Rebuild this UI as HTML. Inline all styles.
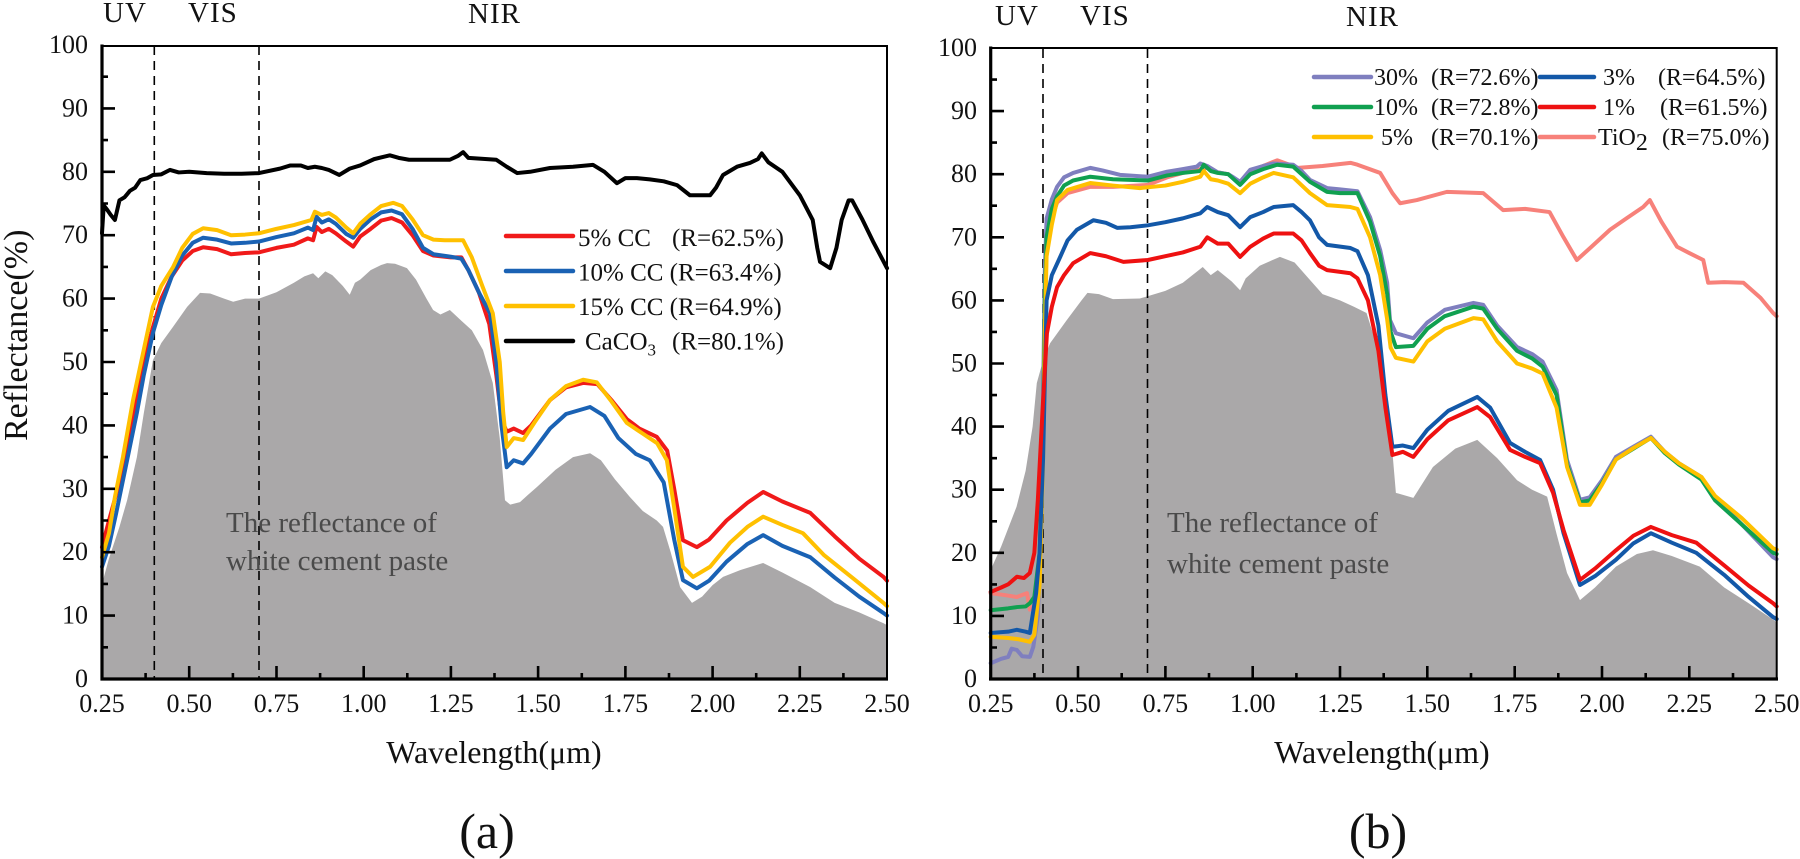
<!DOCTYPE html>
<html><head><meta charset="utf-8"><style>
html,body{margin:0;padding:0;background:#fff;}
svg{display:block;}
text{font-family:"Liberation Serif","Times New Roman",serif;fill:#111;}
.ln{fill:none;stroke-width:4;stroke-linejoin:round;stroke-linecap:round;}
</style></head><body>
<svg width="1800" height="859" viewBox="0 0 1800 859" xmlns="http://www.w3.org/2000/svg" font-family="Liberation Serif, Times New Roman, serif">
<rect width="1800" height="859" fill="#fff"/>

<!-- ================= LEFT PANEL ================= -->
<g transform="matrix(348.9,0,0,-6.34,14.775,679)">
<polygon fill="#aaa8a9" points="0.25,0 0.25,15 0.27,19 0.30,24 0.322,28.2 0.35,35 0.37,42 0.396,50.3 0.42,53 0.453,55.5 0.494,58.7 0.531,60.9 0.56,60.8 0.60,60 0.626,59.5 0.66,60 0.70,60 0.75,61 0.80,62.5 0.83,63.5 0.855,64 0.87,63.2 0.89,64.3 0.91,63.7 0.94,62 0.96,60.6 0.975,62.5 0.99,63 1.02,64.5 1.05,65.3 1.067,65.6 1.09,65.5 1.124,64.8 1.15,63 1.18,60 1.199,58.2 1.22,57.5 1.247,58.2 1.28,56.5 1.31,55 1.342,51.9 1.37,46.7 1.39,38 1.405,28.2 1.42,27.5 1.448,27.9 1.47,29 1.497,30.3 1.55,33 1.60,35 1.649,35.6 1.68,34.5 1.72,31.5 1.763,28.7 1.80,26.5 1.84,25 1.858,24 1.88,20 1.907,14.5 1.941,12 1.97,13 2.00,14.8 2.03,16.1 2.08,17.2 2.145,18.3 2.20,16.8 2.28,14.5 2.35,12 2.42,10.5 2.49,8.8 2.5,8.5 2.5,0"/>
</g>
<!-- dashed lines -->
<line x1="154.3" y1="46" x2="154.3" y2="679" stroke="#000" stroke-width="1.6" stroke-dasharray="9 6"/>
<line x1="259" y1="46" x2="259" y2="679" stroke="#000" stroke-width="1.6" stroke-dasharray="9 6"/>
<!-- cement text -->
<text x="226" y="532" font-size="29" style="fill:#4a4a4a">The reflectance of</text>
<text x="226" y="570" font-size="29" style="fill:#4a4a4a">white cement paste</text>

<g transform="matrix(348.9,0,0,-6.34,14.775,679)">
<polyline class="ln" vector-effect="non-scaling-stroke" stroke="#000" points="0.25,70.3 0.255,74.7 0.265,74 0.275,73.2 0.287,72.4 0.30,75.5 0.315,76 0.33,77 0.345,77.5 0.36,78.7 0.38,79 0.396,79.5 0.42,79.6 0.445,80.3 0.47,79.9 0.50,80 0.55,79.8 0.60,79.7 0.65,79.7 0.70,79.8 0.76,80.5 0.79,81 0.82,81 0.84,80.6 0.86,80.8 0.88,80.6 0.90,80.3 0.93,79.5 0.96,80.5 0.99,81 1.03,82 1.075,82.6 1.10,82.2 1.13,81.9 1.19,81.9 1.247,81.9 1.27,82.5 1.285,83.1 1.30,82.2 1.38,81.9 1.41,80.8 1.44,79.8 1.477,80 1.534,80.6 1.60,80.8 1.657,81.1 1.69,80 1.726,78.2 1.75,79 1.783,79 1.82,78.8 1.86,78.5 1.898,77.9 1.935,76.3 1.993,76.3 2.01,77.5 2.03,79.5 2.07,80.8 2.107,81.4 2.13,82 2.141,82.9 2.16,81.5 2.2,80 2.25,76.3 2.287,72.4 2.30,68 2.308,65.8 2.337,64.8 2.355,68 2.37,72.4 2.39,75.5 2.40,75.5 2.43,72.4 2.46,69 2.5,64.8"/>
<polyline class="ln" vector-effect="non-scaling-stroke" stroke="#f01a1a" points="0.25,20.8 0.27,25 0.29,29 0.32,36 0.34,42 0.37,50 0.396,55.5 0.42,60 0.45,63.5 0.48,66 0.51,67.5 0.54,68.1 0.58,67.8 0.62,67 0.66,67.2 0.70,67.3 0.75,68 0.80,68.5 0.84,69.5 0.855,69.2 0.865,71.3 0.88,70.5 0.90,71 0.92,70.3 0.95,69 0.97,68.2 0.99,69.8 1.02,71 1.05,72.3 1.08,72.7 1.11,72 1.14,70 1.17,67.5 1.20,66.8 1.25,66.5 1.28,66.5 1.30,64.5 1.33,61 1.36,56 1.38,48 1.395,41 1.41,39 1.43,39.5 1.457,38.8 1.48,40 1.534,44 1.58,46 1.629,46.7 1.67,46.5 1.71,44 1.754,41 1.79,39.5 1.84,38.2 1.87,36 1.89,30 1.915,21.9 1.955,20.8 1.99,22 2.04,25 2.10,27.8 2.145,29.5 2.20,28 2.28,26.2 2.35,22.5 2.42,19 2.49,16.1 2.5,15.5"/>
<polyline class="ln" vector-effect="non-scaling-stroke" stroke="#1a62b4" points="0.25,17.7 0.27,21 0.29,26 0.32,34 0.35,42 0.37,48 0.396,54.6 0.42,59 0.45,63.5 0.48,66.8 0.51,68.8 0.54,69.6 0.58,69.3 0.62,68.7 0.66,68.8 0.70,69 0.75,69.7 0.80,70.3 0.84,71.2 0.855,70.8 0.865,72.9 0.88,72 0.90,72.5 0.92,71.8 0.95,70.2 0.97,69.6 0.99,71 1.02,72.5 1.05,73.6 1.08,73.9 1.11,73.3 1.14,71 1.17,68 1.20,67 1.25,66.6 1.28,66.3 1.30,64.5 1.33,61 1.362,57.7 1.38,50 1.395,40 1.41,33.4 1.43,34.5 1.457,34 1.48,35.5 1.534,39.5 1.58,41.8 1.649,42.9 1.69,41.5 1.73,38 1.78,35.5 1.82,34.5 1.86,31 1.89,22 1.915,15.6 1.955,14.3 1.99,15.5 2.04,18.5 2.10,21.3 2.145,22.7 2.20,21 2.28,19.2 2.35,16 2.42,13 2.49,10.4 2.5,10"/>
<polyline class="ln" vector-effect="non-scaling-stroke" stroke="#ffc000" points="0.25,19.2 0.27,23 0.287,28.7 0.31,35 0.339,44 0.37,52 0.396,58.7 0.42,62 0.454,65 0.48,68 0.51,70.2 0.54,71.1 0.58,70.8 0.62,70 0.66,70.1 0.70,70.3 0.75,71 0.80,71.6 0.85,72.4 0.86,73.7 0.88,73.2 0.90,73.5 0.92,72.8 0.95,71.2 0.97,70.3 0.99,71.8 1.02,73.3 1.05,74.6 1.085,75.1 1.11,74.6 1.14,72.5 1.17,70 1.20,69.3 1.232,69.2 1.285,69.2 1.31,66.5 1.34,62 1.37,57.7 1.39,50 1.40,42 1.41,36.6 1.43,38 1.457,37.7 1.49,40.5 1.534,44 1.58,46.2 1.629,47.2 1.668,46.8 1.71,43.8 1.754,40.4 1.80,38.7 1.841,37.2 1.869,34.5 1.89,27 1.915,17.7 1.944,16.1 1.993,17.7 2.05,21.5 2.10,24 2.145,25.6 2.20,24.3 2.259,23 2.32,19.5 2.40,16 2.49,12 2.5,11.5"/>
</g>

<!-- left legend -->
<g>
<line x1="506" y1="236" x2="573" y2="236" stroke="#f01a1a" stroke-width="4.5" stroke-linecap="round"/>
<line x1="506" y1="271" x2="573" y2="271" stroke="#1a62b4" stroke-width="4.5" stroke-linecap="round"/>
<line x1="506" y1="306" x2="573" y2="306" stroke="#ffc000" stroke-width="4.5" stroke-linecap="round"/>
<line x1="506" y1="341" x2="573" y2="341" stroke="#000" stroke-width="4.5" stroke-linecap="round"/>
<text x="578" y="246" font-size="25">5% CC</text>
<text x="672" y="246" font-size="25">(R=62.5%)</text>
<text x="578" y="280.5" font-size="25">10% CC (R=63.4%)</text>
<text x="578" y="315" font-size="25">15% CC (R=64.9%)</text>
<text x="585" y="349.5" font-size="25">CaCO<tspan font-size="17" dy="6">3</tspan><tspan dy="-6" x="672">(R=80.1%)</tspan></text>
</g>

<!-- left axes -->
<rect x="102" y="46" width="785" height="633" fill="none" stroke="#000" stroke-width="2"/>
<line x1="102" y1="44.5" x2="102" y2="680.5" stroke="#000" stroke-width="3.2"/>
<line x1="100.5" y1="679" x2="888" y2="679" stroke="#000" stroke-width="3.2"/>
<path stroke="#000" stroke-width="2.6" fill="none" d="M189.2,679V666M276.5,679V666M363.7,679V666M450.9,679V666M538.1,679V666M625.4,679V666M712.6,679V666M799.8,679V666M145.6,679V673M232.9,679V673M320.1,679V673M407.3,679V673M494.5,679V673M581.8,679V673M669,679V673M756.2,679V673M843.4,679V673M102,615.6H115M102,552.2H115M102,488.8H115M102,425.4H115M102,362H115M102,298.6H115M102,235.2H115M102,171.8H115M102,108.4H115M102,647.3H108M102,583.9H108M102,520.5H108M102,457.1H108M102,393.7H108M102,330.3H108M102,266.9H108M102,203.5H108M102,140.1H108M102,76.7H108"/>
<g font-size="26" text-anchor="end">
<text x="88" y="687">0</text><text x="88" y="623.6">10</text><text x="88" y="560.2">20</text><text x="88" y="496.8">30</text><text x="88" y="433.4">40</text><text x="88" y="370">50</text><text x="88" y="306.6">60</text><text x="88" y="243.2">70</text><text x="88" y="179.8">80</text><text x="88" y="116.4">90</text><text x="88" y="53">100</text>
</g>
<g font-size="26" text-anchor="middle">
<text x="102" y="712">0.25</text><text x="189.2" y="712">0.50</text><text x="276.5" y="712">0.75</text><text x="363.7" y="712">1.00</text><text x="450.9" y="712">1.25</text><text x="538.1" y="712">1.50</text><text x="625.4" y="712">1.75</text><text x="712.6" y="712">2.00</text><text x="799.8" y="712">2.25</text><text x="887" y="712">2.50</text>
</g>
<text x="494" y="763" font-size="32" text-anchor="middle">Wavelength(μm)</text>
<text x="487" y="848" font-size="50" text-anchor="middle">(a)</text>
<text transform="translate(27,441) rotate(-90)" font-size="34">Reflectance(%)</text>
<text x="103" y="22" font-size="29" letter-spacing="1">UV</text>
<text x="188" y="22" font-size="29" letter-spacing="1">VIS</text>
<text x="468" y="23" font-size="29" letter-spacing="1">NIR</text>

<!-- ================= RIGHT PANEL ================= -->
<g transform="matrix(349.3,0,0,-6.31,903.375,679)">
<polygon fill="#aaa8a9" points="0.25,0 0.25,17.3 0.28,21 0.324,27.3 0.35,33 0.37,40 0.382,46.9 0.40,50.5 0.42,53.2 0.468,56.9 0.51,60 0.527,61.2 0.56,61 0.60,60.2 0.677,60.3 0.75,61.5 0.80,62.8 0.857,65.3 0.88,64 0.90,64.8 0.94,63 0.964,61.6 0.98,63.5 1.02,65.5 1.078,66.9 1.12,66 1.16,63.5 1.20,61 1.25,60 1.29,59 1.326,58 1.36,52 1.38,45 1.40,36 1.41,29.5 1.46,28.7 1.516,33.6 1.58,36.5 1.643,37.9 1.70,35 1.757,31.5 1.80,30 1.843,28.9 1.87,23 1.90,16.8 1.937,12.5 1.98,14.5 2.04,17.8 2.10,19.8 2.146,20.4 2.20,19.5 2.28,17.8 2.35,14.5 2.42,12 2.49,9.4 2.5,9 2.5,0"/>
</g>
<line x1="1043" y1="49" x2="1043" y2="679" stroke="#000" stroke-width="1.6" stroke-dasharray="9 6"/>
<line x1="1147.5" y1="49" x2="1147.5" y2="679" stroke="#000" stroke-width="1.6" stroke-dasharray="9 6"/>
<text x="1167" y="532" font-size="29" style="fill:#4a4a4a">The reflectance of</text>
<text x="1167" y="573" font-size="29" style="fill:#4a4a4a">white cement paste</text>

<g transform="matrix(349.3,0,0,-6.31,903.375,679)">
<polyline class="ln" vector-effect="non-scaling-stroke" stroke="#f7817a" points="0.25,13.6 0.29,13.3 0.325,13 0.354,13.6 0.362,11 0.38,12 0.39,20 0.40,40 0.405,58 0.41,68 0.425,73 0.44,75.5 0.47,77 0.535,78 0.60,78 0.70,78.3 0.755,79.5 0.80,80.2 0.85,80.8 0.87,81 0.90,80.3 0.93,80 0.964,78.6 0.993,80.5 1.03,81.3 1.07,82.2 1.13,81 1.20,81.3 1.28,81.8 1.30,81.5 1.365,80.2 1.40,77 1.422,75.4 1.47,75.9 1.556,77.2 1.66,77 1.717,74.3 1.78,74.5 1.85,74 1.89,70 1.928,66.4 1.97,68.5 2.023,71.2 2.07,73 2.118,74.8 2.137,75.9 2.17,72.5 2.215,68.5 2.25,67.5 2.29,66.4 2.304,62.8 2.35,62.9 2.405,62.8 2.454,60.4 2.49,58 2.5,57.5"/>
<polyline class="ln" vector-effect="non-scaling-stroke" stroke="#7f7fbf" points="0.25,2.5 0.28,3.2 0.30,3.5 0.31,4.8 0.325,4.6 0.34,3.6 0.362,3.5 0.372,5.1 0.385,10 0.395,25 0.40,45 0.405,65 0.41,73 0.425,76 0.44,78 0.46,79.5 0.486,80.2 0.535,81 0.57,80.6 0.62,79.9 0.70,79.6 0.755,80.4 0.80,80.8 0.84,81.2 0.85,81.7 0.87,81.3 0.90,80.3 0.93,80 0.945,79.5 0.964,78.8 0.993,80.7 1.03,81.3 1.059,81.7 1.116,81.5 1.14,80.5 1.164,79.1 1.213,77.8 1.25,77.6 1.30,77.3 1.336,73.2 1.365,68 1.385,62.8 1.393,56.9 1.41,54.8 1.46,54 1.50,56.5 1.55,58.5 1.632,59.6 1.66,59.3 1.70,56 1.757,52.6 1.80,51.5 1.83,50.3 1.87,45.8 1.90,34.7 1.937,28.4 1.965,28.8 2.00,31.5 2.04,35.2 2.09,36.8 2.14,38.4 2.18,36 2.22,34.2 2.285,32 2.324,28.8 2.40,24.5 2.49,19.3 2.5,19"/>
<polyline class="ln" vector-effect="non-scaling-stroke" stroke="#10a050" points="0.25,10.9 0.30,11.2 0.325,11.4 0.35,11.5 0.362,12 0.375,13 0.39,20 0.40,40 0.405,60 0.41,70 0.425,74.5 0.44,76.5 0.46,78.2 0.486,79 0.535,79.6 0.60,79.2 0.70,79 0.755,79.8 0.80,80.2 0.85,80.5 0.86,81.5 0.88,80.5 0.90,80.2 0.93,80 0.964,78.3 0.993,80 1.03,80.8 1.07,81.5 1.116,81.2 1.164,78.8 1.213,77.2 1.25,77 1.30,77 1.336,72.5 1.365,67 1.385,61 1.395,55 1.41,52.6 1.46,52.8 1.50,55.5 1.55,57.5 1.632,59 1.66,58.7 1.70,55.5 1.757,52 1.80,50.8 1.83,49.5 1.87,45 1.90,34 1.937,28 1.965,28.3 2.00,31 2.04,34.8 2.09,36.5 2.14,38.2 2.18,35.8 2.22,34 2.285,31.6 2.324,28.3 2.40,24.5 2.49,20 2.5,19.8"/>
<polyline class="ln" vector-effect="non-scaling-stroke" stroke="#ffc000" points="0.25,6.7 0.30,6.5 0.33,6.3 0.362,5.9 0.375,7 0.39,15 0.40,35 0.405,55 0.41,67 0.425,72 0.44,75.9 0.47,77.5 0.535,78.6 0.60,78.2 0.677,77.8 0.75,78.2 0.80,78.8 0.85,79.6 0.86,80.5 0.88,79.2 0.90,79 0.93,78.5 0.964,77 0.993,78.5 1.03,79.5 1.06,80.2 1.116,79.5 1.164,77 1.213,75.1 1.28,74.8 1.30,74.5 1.336,70 1.365,64 1.385,57 1.395,52.5 1.41,50.9 1.46,50.3 1.50,53.5 1.55,55.5 1.632,57.2 1.66,57 1.70,53.5 1.757,50 1.80,49.2 1.83,48.4 1.87,43 1.90,33.6 1.937,27.6 1.965,27.6 2.00,30.8 2.04,34.8 2.09,36.6 2.14,38.2 2.18,36 2.22,34.2 2.285,32 2.324,29 2.40,25.5 2.49,20.7 2.5,20.5"/>
<polyline class="ln" vector-effect="non-scaling-stroke" stroke="#1358a8" points="0.25,7.3 0.30,7.5 0.325,7.8 0.35,7.5 0.362,7.3 0.38,13.6 0.39,20 0.40,35 0.41,60 0.425,64 0.449,66.9 0.47,69.5 0.497,71.2 0.544,72.7 0.58,72.3 0.612,71.5 0.65,71.6 0.70,71.9 0.75,72.4 0.80,73 0.85,73.8 0.87,74.8 0.90,74 0.93,73.5 0.964,71.6 0.993,73.2 1.03,74 1.06,74.8 1.116,75.1 1.14,74 1.164,72.7 1.19,70 1.213,68.8 1.28,68.3 1.30,67.8 1.33,64 1.36,56 1.38,45 1.40,36.8 1.43,37 1.46,36.6 1.50,39.5 1.56,42.5 1.643,44.7 1.68,43 1.737,37.4 1.78,36 1.823,34.7 1.86,30 1.89,23.1 1.937,14.9 1.98,16.3 2.04,18.9 2.09,21.5 2.14,23.1 2.20,21.6 2.27,20 2.35,16.5 2.42,13 2.49,9.8 2.5,9.5"/>
<polyline class="ln" vector-effect="non-scaling-stroke" stroke="#ee1111" points="0.25,13.8 0.28,14.5 0.30,15 0.325,16.2 0.345,16 0.362,16.8 0.375,20 0.385,28.4 0.40,44.2 0.411,54.8 0.425,59 0.44,62.1 0.46,64 0.486,65.9 0.535,67.5 0.58,67 0.63,66.1 0.70,66.4 0.75,67 0.80,67.6 0.85,68.5 0.87,70 0.90,69 0.93,69 0.964,66.9 0.993,68.5 1.03,69.8 1.06,70.6 1.116,70.6 1.14,69.5 1.164,67.5 1.19,65.5 1.213,64.8 1.28,64.3 1.30,63.5 1.33,60 1.36,52 1.38,43 1.40,35.5 1.43,36 1.46,35.2 1.50,38 1.56,41 1.643,43.1 1.68,41.5 1.737,36.3 1.78,35.2 1.823,34.2 1.86,29.5 1.89,23.6 1.937,15.7 1.98,17.5 2.04,20.4 2.09,22.7 2.14,24.1 2.20,22.8 2.27,21.6 2.35,18 2.42,14.8 2.49,12 2.5,11.5"/>
</g>

<!-- right legend -->
<g>
<line x1="1314" y1="77" x2="1371" y2="77" stroke="#7f7fbf" stroke-width="4.5" stroke-linecap="round"/>
<line x1="1314" y1="107" x2="1371" y2="107" stroke="#10a050" stroke-width="4.5" stroke-linecap="round"/>
<line x1="1314" y1="137" x2="1371" y2="137" stroke="#ffc000" stroke-width="4.5" stroke-linecap="round"/>
<line x1="1540" y1="77" x2="1594" y2="77" stroke="#1358a8" stroke-width="4.5" stroke-linecap="round"/>
<line x1="1540" y1="107" x2="1594" y2="107" stroke="#ee1111" stroke-width="4.5" stroke-linecap="round"/>
<line x1="1540" y1="137" x2="1594" y2="137" stroke="#f7817a" stroke-width="4.5" stroke-linecap="round"/>
<g font-size="24">
<text x="1418" y="85" text-anchor="end">30%</text>
<text x="1418" y="115" text-anchor="end">10%</text>
<text x="1413" y="145" text-anchor="end">5%</text>
<text x="1431" y="85">(R=72.6%)</text>
<text x="1431" y="115">(R=72.8%)</text>
<text x="1431" y="145">(R=70.1%)</text>
<text x="1603" y="85">3%</text>
<text x="1603" y="115">1%</text>
<text x="1598" y="145">TiO<tspan dy="5">2</tspan></text>
<text x="1658" y="85">(R=64.5%)</text>
<text x="1660" y="115">(R=61.5%)</text>
<text x="1662" y="145">(R=75.0%)</text>
</g>
</g>

<!-- right axes -->
<rect x="990.7" y="48" width="786" height="631" fill="none" stroke="#000" stroke-width="2"/>
<line x1="990.7" y1="46.5" x2="990.7" y2="680.5" stroke="#000" stroke-width="3.2"/>
<line x1="989" y1="679" x2="1778" y2="679" stroke="#000" stroke-width="3.2"/>
<path stroke="#000" stroke-width="2.6" fill="none" d="M1078,679V666M1165.4,679V666M1252.7,679V666M1340,679V666M1427.3,679V666M1514.7,679V666M1602,679V666M1689.3,679V666M1034.4,679V673M1121.7,679V673M1209,679V673M1296.4,679V673M1383.7,679V673M1471,679V673M1558.3,679V673M1645.7,679V673M1733,679V673M990.7,615.9H1004M990.7,552.8H1004M990.7,489.7H1004M990.7,426.6H1004M990.7,363.5H1004M990.7,300.4H1004M990.7,237.3H1004M990.7,174.2H1004M990.7,111.1H1004M990.7,647.5H997M990.7,584.4H997M990.7,521.3H997M990.7,458.2H997M990.7,395.1H997M990.7,331.9H997M990.7,268.8H997M990.7,205.7H997M990.7,142.6H997M990.7,79.6H997"/>
<g font-size="26" text-anchor="end">
<text x="977" y="687">0</text><text x="977" y="623.9">10</text><text x="977" y="560.8">20</text><text x="977" y="497.7">30</text><text x="977" y="434.6">40</text><text x="977" y="371.5">50</text><text x="977" y="308.4">60</text><text x="977" y="245.3">70</text><text x="977" y="182.2">80</text><text x="977" y="119.1">90</text><text x="977" y="56">100</text>
</g>
<g font-size="26" text-anchor="middle">
<text x="990.7" y="712">0.25</text><text x="1078" y="712">0.50</text><text x="1165.4" y="712">0.75</text><text x="1252.7" y="712">1.00</text><text x="1340" y="712">1.25</text><text x="1427.3" y="712">1.50</text><text x="1514.7" y="712">1.75</text><text x="1602" y="712">2.00</text><text x="1689.3" y="712">2.25</text><text x="1776.7" y="712">2.50</text>
</g>
<text x="1382" y="763" font-size="32" text-anchor="middle">Wavelength(μm)</text>
<text x="1378" y="848" font-size="50" text-anchor="middle">(b)</text>
<text x="995" y="25" font-size="29" letter-spacing="1">UV</text>
<text x="1080" y="25" font-size="29" letter-spacing="1">VIS</text>
<text x="1346" y="26" font-size="29" letter-spacing="1">NIR</text>
</svg>
</body></html>
